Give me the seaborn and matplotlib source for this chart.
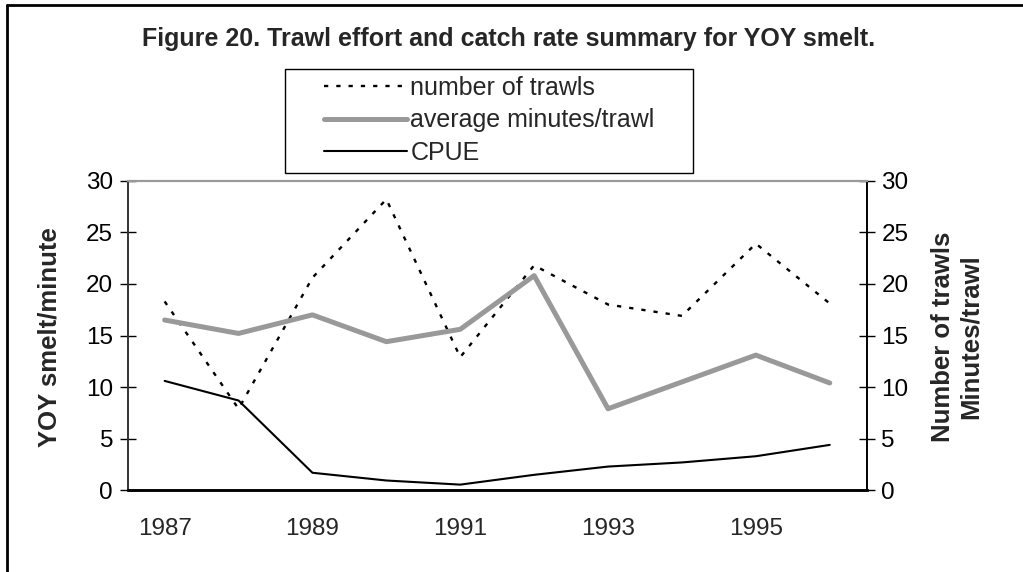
import matplotlib
matplotlib.use("Agg")
import matplotlib.pyplot as plt
from matplotlib.lines import Line2D
from matplotlib.patches import Rectangle
import seaborn as sns
import numpy as np

# values
years = [1987, 1988, 1989, 1990, 1991, 1992, 1993, 1994, 1995, 1996]
num_trawls = [18.3, 7.9, 20.6, 28.2, 12.9, 21.8, 18.0, 16.9, 23.9, 18.1]
avg_minutes = [16.5, 15.2, 17.0, 14.4, 15.6, 20.8, 7.9, 10.5, 13.1, 10.4]
cpue = [10.6, 8.7, 1.7, 0.95, 0.55, 1.5, 2.3, 2.7, 3.3, 4.4]
year_labels = ['1987', '1989', '1991', '1993', '1995']
y_ticks = [0, 5, 10, 15, 20, 25, 30]

W, H = 1023, 572

sns.set_style('white')
plt.rcParams['font.family'] = ['Liberation Sans', 'DejaVu Sans']

fig = plt.figure(figsize=(W / 100, H / 100), dpi=100)
ax = fig.add_axes([127.7 / W, 1 - 490.3 / H, 739 / W, 309.6 / H])
ax2 = ax.twinx()

sns.lineplot(x=years, y=cpue, ax=ax, color='black', linewidth=1.5,
             label='CPUE', legend=False)
sns.lineplot(x=years, y=num_trawls, ax=ax2, color='black', linewidth=1.7,
             linestyle=(0, (1.8, 3.4)), label='number of trawls', legend=False)
sns.lineplot(x=years, y=avg_minutes, ax=ax2, color='#999999', linewidth=3.6,
             label='average minutes/trawl', legend=False)

for a in (ax, ax2):
    a.set_ylim(0, 30)
    a.set_xlim(years[0] - 0.5, years[-1] + 0.5)
    a.set_yticks(y_ticks)
    a.tick_params(axis='y', direction='inout', length=11, width=1,
                  labelsize=17.5, pad=5, colors='black')
    for s in a.spines.values():
        s.set_visible(True)
    a.spines['top'].set_color('#999999')
    a.spines['left'].set_color('#333333')
    a.spines['right'].set_color('black')
    a.spines['bottom'].set_color('black')
    a.spines['bottom'].set_linewidth(1.8)
    a.spines['left'].set_linewidth(1.2)
    a.spines['right'].set_linewidth(1.2)
    a.spines['top'].set_linewidth(1.5)
    a.set_ylabel('')
    a.grid(False)

# category boundaries get tick marks, labels sit under every other year
ax.set_xticks(np.arange(years[0] - 0.5, years[-1] + 1, 1.0))
ax.set_xticklabels([])
ax.tick_params(axis='x', direction='inout', length=11, width=1, colors='black')
ax.set_xticks(years[::2], minor=True)
ax.set_xticklabels(year_labels, minor=True)
ax.tick_params(axis='x', which='minor', length=0, labelsize=17.5, pad=20)
ax.set_xlabel('')

fig.text(50 / W, 1 - 337 / H, 'YOY smelt/minute', rotation=90,
         ha='center', va='center', fontsize=18.5, fontweight='bold')
fig.text(957 / W, 1 - 337 / H, 'Number of trawls\nMinutes/trawl', rotation=90,
         ha='center', va='center', fontsize=18.5, fontweight='bold',
         multialignment='center', linespacing=1.2)

fig.text(509 / W, 1 - 39 / H,
         'Figure 20. Trawl effort and catch rate summary for YOY smelt.',
         ha='center', va='center', fontsize=18, fontweight='bold')

# legend box drawn separately so its padding matches the original
fig.add_artist(Rectangle((285 / W, 1 - 173 / H), (693 - 285) / W, 104 / H,
                         transform=fig.transFigure, fill=False,
                         edgecolor='black', linewidth=1.0))
h2, l2 = ax2.get_legend_handles_labels()
h1, l1 = ax.get_legend_handles_labels()
fig.legend(h2 + h1, l2 + l1, loc='upper left',
           bbox_to_anchor=(324 / W, 1 - 76 / H),
           fontsize=18, frameon=False, handlelength=3.3, handletextpad=0.15,
           borderpad=0, labelspacing=0.33, borderaxespad=0)

# outer frame of the original figure (only top and left edges visible)
fig.add_artist(Line2D([7 / W, 1], [1 - 5 / H, 1 - 5 / H],
                      transform=fig.transFigure, color='black', linewidth=2))
fig.add_artist(Line2D([7 / W, 7 / W], [0, 1 - 5 / H],
                      transform=fig.transFigure, color='black', linewidth=2))

fig.savefig('out.png', dpi=100, facecolor='white')
